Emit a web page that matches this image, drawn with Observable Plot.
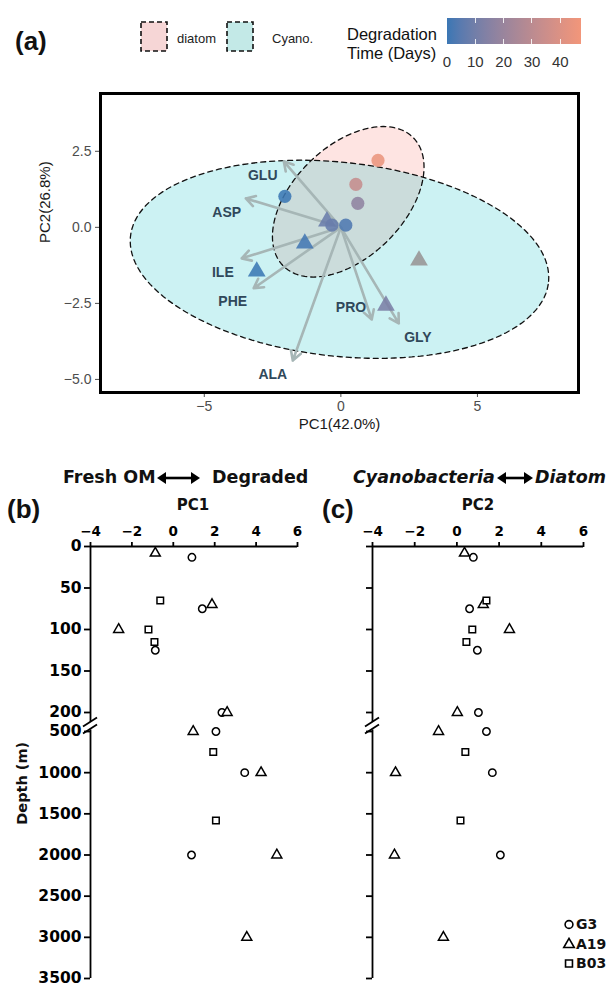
<!DOCTYPE html>
<html><head><meta charset="utf-8">
<script src="https://cdn.jsdelivr.net/npm/d3@7"></script>
<script src="https://cdn.jsdelivr.net/npm/@observablehq/plot@0.6"></script>
<style>
body{margin:0;background:#fff;font-family:"Liberation Sans",Arial,sans-serif;}
#root{position:relative;width:608px;height:987px;overflow:hidden;background:#fff;}
.abs{position:absolute;}
.pbc svg [aria-label$="axis tick"], .pbc svg [aria-label$="axis tick"] *{stroke-width:1.8px;}
.pbc svg [aria-label$="-axis"] .tick line{stroke-width:1.8px;}
</style></head><body><div id="root"></div>
<script>
// ---------- Panel (a): PCA scores ----------
const scoreShape = ["circle","circle","circle","circle","circle","circle","triangle","triangle","triangle","triangle","triangle"];
const scorePC1   = [1.36, 0.55, 0.62, -2.05, -0.33, 0.18, -0.51, -1.32, -3.08, 1.65, 2.86];
const scorePC2   = [2.20, 1.41, 0.79, 1.02, 0.07, 0.07, 0.20, -0.53, -1.45, -2.57, -1.09];
const scoreDays  = [45, 33, 17, 0, 7, 3, 8, 1, 0, 12, null];

// ---------- Panel (a): loadings ----------
const loadingName = ["GLU","ASP","ILE","PHE","ALA","PRO","GLY"];
const loadingPC1  = [-2.09, -3.48, -3.63, -3.19, -1.76, 1.13, 2.12];
const loadingPC2  = [2.17, 0.95, -1.02, -2.00, -4.38, -3.03, -3.16];
const labelPC1    = [-2.86, -4.18, -4.32, -3.96, -2.49, 0.37, 2.82];
const labelPC2    = [1.71, 0.49, -1.48, -2.43, -4.84, -2.63, -3.62];

// ---------- Panel (a): group ellipses ----------
const groupName      = ["diatom", "Cyano."];
const groupColor     = ["#F8766D", "#00BFC4"];
const ellipseCX      = [0.27, -0.05];
const ellipseCY      = [0.84, -1.05];
const ellipseA       = [3.19, 7.69];
const ellipseB       = [1.91, 3.19];
const ellipseAngle   = [38, -5.4];

// ---------- Degradation colour scale ----------
const daysDomain = [0, 47.3];
const daysColors = ["#3B77B4", "#F2967A"];
const daysTicks  = [0, 10, 20, 30, 40];

// ---------- Panels (b), (c) ----------
const stations = ["G3", "A19", "B03"];
const stationSymbol = ["circle", "triangle", "square"];
const sampleStation = ["G3","G3","G3","G3","G3","G3","G3",
                       "A19","A19","A19","A19","A19","A19","A19","A19",
                       "B03","B03","B03","B03","B03"];
const sampleDepth = [13, 75, 125, 200, 500, 1000, 2000,
                     8, 70, 100, 200, 500, 1000, 2000, 3000,
                     65, 100, 115, 750, 1580];
const samplePC1 = [0.90, 1.40, -0.87, 2.35, 2.06, 3.45, 0.88,
                   -0.87, 1.87, -2.64, 2.60, 0.96, 4.24, 5.00, 3.55,
                   -0.63, -1.20, -0.91, 1.93, 2.06];
const samplePC2 = [0.78, 0.60, 0.97, 1.02, 1.40, 1.68, 2.06,
                   0.36, 1.25, 2.49, 0.02, -0.87, -2.91, -2.96, -0.64,
                   1.40, 0.73, 0.45, 0.40, 0.17];
const depthBreaks = [0, 200, 500, 3500];
const depthTicks = [0, 50, 100, 150, 200, 500, 1000, 1500, 2000, 2500, 3000, 3500];
const pcTicks = [-4, -2, 0, 2, 4, 6];

// ================= build =================
const root = document.getElementById("root");
function addText(txt, x, yc, css, align = "left") {
  const d = document.createElement("div");
  d.textContent = txt;
  d.style.cssText = `position:absolute;white-space:nowrap;line-height:1;${css}`;
  const fs = parseFloat(/font-size:\s*([\d.]+)/.exec(css)[1]);
  d.style.top = (yc - fs * 0.5) + "px";
  if (align === "left") d.style.left = x + "px";
  else if (align === "center") { d.style.left = x + "px"; d.style.transform = "translateX(-50%)"; }
  else d.style.right = (608 - x) + "px";
  root.appendChild(d);
  return d;
}
function place(node, left, top) {
  node.style.position = "absolute";
  node.style.left = left + "px";
  node.style.top = top + "px";
  root.appendChild(node);
}

// ---- PCA plot ----
const scores = scorePC1.map((x, i) => ({x, y: scorePC2[i], shape: scoreShape[i], days: scoreDays[i]}));
const loadings = loadingName.map((name, i) => ({name, x: loadingPC1[i], y: loadingPC2[i], lx: labelPC1[i], ly: labelPC2[i]}));
const ellipses = groupName.map((g, i) => {
  const th = ellipseAngle[i] * Math.PI / 180;
  return d3.range(0, 145).map(k => {
    const t = k / 144 * 2 * Math.PI;
    return {
      group: g,
      x: ellipseCX[i] + ellipseA[i] * Math.cos(t) * Math.cos(th) - ellipseB[i] * Math.sin(t) * Math.sin(th),
      y: ellipseCY[i] + ellipseA[i] * Math.cos(t) * Math.sin(th) + ellipseB[i] * Math.sin(t) * Math.cos(th)
    };
  });
});

const pca = Plot.plot({
  width: 608, height: 440,
  marginLeft: 100, marginRight: 30, marginTop: 93, marginBottom: 48,
  style: {fontFamily: "Liberation Sans, Arial, sans-serif", fontSize: "14px", color: "#4d4d4d", background: "transparent"},
  x: {domain: [-8.8, 8.7], ticks: [-5, 0, 5], tickSize: 5, tickPadding: 4, label: null},
  y: {domain: [-5.43, 4.4], ticks: [-5, -2.5, 0, 2.5], tickSize: 5, tickPadding: 4, tickFormat: d3.format(".1f"), label: null},
  symbol: {domain: ["circle", "triangle"], range: ["circle", "triangle"]},
  color: {type: "linear", domain: daysDomain, range: daysColors, interpolate: "lab"},
  marks: [
    Plot.line(ellipses[0], {x: "x", y: "y", curve: "linear-closed", fill: groupColor[0], fillOpacity: 0.2, stroke: "none"}),
    Plot.line(ellipses[1], {x: "x", y: "y", curve: "linear-closed", fill: groupColor[1], fillOpacity: 0.2, stroke: "none"}),
    Plot.line(ellipses.flat(), {x: "x", y: "y", z: "group", curve: "linear-closed", stroke: "#111", strokeWidth: 1.3, strokeDasharray: "5,4"}),
    Plot.arrow(loadings, {x1: 0, y1: 0, x2: "x", y2: "y", stroke: "#a6b6b6", strokeWidth: 2.6, headLength: 6, headAngle: 60}),
    Plot.text(loadings, {x: "lx", y: "ly", text: "name", fill: "#30485a", fontWeight: "bold", fontSize: 14}),
    Plot.dot(scores.filter(d => d.days != null), {x: "x", y: "y", symbol: "shape", r: 6.6, fill: "days", fillOpacity: 0.88}),
    Plot.dot(scores.filter(d => d.days == null), {x: "x", y: "y", symbol: "shape", r: 6.6, fill: "#9b9b9b", fillOpacity: 0.95}),
    Plot.frame({stroke: "black", strokeWidth: 3}),
    Plot.text(["PC1(42.0%)"], {frameAnchor: "bottom", dy: 36, fill: "#1a1a1a", fontSize: 15}),
    Plot.text(["PC2(26.8%)"], {frameAnchor: "left", dx: -55, rotate: -90, fill: "#1a1a1a", fontSize: 15})
  ]
});
place(pca, 0, 0);

// ---- top legend ----
addText("(a)", 15, 41, "font-size:26px;font-weight:bold;color:#111;");
function keyBox(fill, left) {
  const s = d3.create("svg").attr("width", 28).attr("height", 31);
  s.append("rect").attr("x", 1).attr("y", 1).attr("width", 26).attr("height", 29)
    .attr("fill", fill).attr("stroke", "#111").attr("stroke-width", 1.6).attr("stroke-dasharray", "5,3");
  place(s.node(), left - 1, 21);
}
keyBox("#f6d6d6", 141);
addText("diatom", 177, 38, "font-size:13px;color:#222;");
keyBox("#c3e9e7", 227);
addText("Cyano.", 272, 38, "font-size:13px;color:#222;");
addText("Degradation", 347, 34, "font-size:16.5px;color:#111;");
addText("Time (Days)", 347, 53, "font-size:16.5px;color:#111;");
{
  const barX = 447, barW = 134, barY = 18, barH = 26;
  const interp = d3.interpolateLab(daysColors[0], daysColors[1]);
  const stops = d3.range(0, 11).map(k => `${interp(k / 10)} ${k * 10}%`).join(",");
  const bar = document.createElement("div");
  bar.style.cssText = `width:${barW}px;height:${barH}px;background:linear-gradient(to right,${stops});`;
  place(bar, barX, barY);
  const sx = d3.scaleLinear().domain(daysDomain).range([barX, barX + barW]);
  for (const t of daysTicks) {
    if (t > 0) {
      for (const yy of [barY, barY + barH - 5]) {
        const m = document.createElement("div");
        m.style.cssText = "width:1px;height:5px;background:rgba(255,255,255,0.85);";
        place(m, sx(t) - 0.5, yy);
      }
    }
    addText(String(t), sx(t), 61, "font-size:15px;color:#333;", "center");
  }
}

// ---- depth panels ----
const samples = sampleDepth.map((depth, i) => ({station: sampleStation[i], depth, pc1: samplePC1[i], pc2: samplePC2[i]}));
function depthPanel(key, left, xRange, showLabels) {
  const breakMark = (index, scales) => {
    const g = d3.create("svg:g");
    const ym = (scales.y(depthBreaks[1]) + scales.y(depthBreaks[2])) / 2 + 4;
    const x0 = scales.x(pcTicks[0]);
    g.append("rect").attr("x", x0 - 3).attr("y", ym - 4).attr("width", 6).attr("height", 8).attr("fill", "white");
    for (const off of [-3.5, 3.5]) {
      g.append("line").attr("x1", x0 - 7).attr("y1", ym + off + 4.5).attr("x2", x0 + 7).attr("y2", ym + off - 4.5)
        .attr("stroke", "black").attr("stroke-width", 1.8);
    }
    return g.node();
  };
  const p = Plot.plot({
    width: 304, height: 547,
    marginTop: 106, marginBottom: 9, marginLeft: xRange[0], marginRight: 304 - xRange[1],
    style: {fontFamily: "DejaVu Sans, sans-serif", fontSize: "15.5px", fontWeight: "bold", color: "black", background: "transparent", overflow: "visible"},
    x: {domain: [pcTicks[0], pcTicks[pcTicks.length - 1]], range: xRange, axis: "top", ticks: pcTicks, tickSize: 5, tickPadding: 6, label: null},
    y: {type: "linear", domain: depthBreaks, range: [106, 272, 291, 538], ticks: depthTicks, tickSize: 6, tickPadding: 3, label: null,
        tickFormat: showLabels ? (d => String(d)) : (() => "")},
    symbol: {domain: stations, range: stationSymbol},
    marks: [
      Plot.ruleY([depthBreaks[0]], {stroke: "black", strokeWidth: 1.8}),
      Plot.ruleX([pcTicks[0]], {y1: depthBreaks[0], y2: depthBreaks[3], stroke: "black", strokeWidth: 1.8}),
      breakMark,
      Plot.dot(samples, {x: key, y: "depth", symbol: "station", r: 3.7, stroke: "black", strokeWidth: 1.5, fill: "white"})
    ]
  });
  const wrap = document.createElement("div");
  wrap.className = "pbc";
  wrap.appendChild(p);
  place(wrap, left, 440);
  d3.select(p).selectAll('[aria-label="x-axis tick label"] text, [aria-label="x-axis"] .tick text').style("font-size", "13.5px");
}
depthPanel("pc1", 0, [90, 297], true);
depthPanel("pc2", 304, [68, 279], false);

// ---- panel headers ----
function dblArrow(left, yc, w) {
  const s = d3.create("svg").attr("width", w).attr("height", 14);
  s.append("line").attr("x1", 6).attr("x2", w - 6).attr("y1", 7).attr("y2", 7).attr("stroke", "black").attr("stroke-width", 2.6);
  s.append("path").attr("d", `M0,7 L9,1 L9,13 Z`).attr("fill", "black");
  s.append("path").attr("d", `M${w},7 L${w - 9},1 L${w - 9},13 Z`).attr("fill", "black");
  place(s.node(), left, yc - 7);
}
const hdr = "font-family:'DejaVu Sans',sans-serif;font-weight:bold;font-size:17.5px;color:#111;";
addText("Fresh OM", 63, 478, hdr);
dblArrow(157, 478, 43);
addText("Degraded", 212, 478, hdr);
addText("Cyanobacteria", 353, 478, hdr + "font-style:italic;");
dblArrow(497, 478, 36);
addText("Diatom", 535, 478, hdr + "font-style:italic;");
addText("(b)", 7, 509, "font-size:26px;font-weight:bold;color:#111;");
addText("(c)", 322, 509, "font-size:26px;font-weight:bold;color:#111;");
addText("PC1", 193, 505, "font-family:'DejaVu Sans',sans-serif;font-weight:bold;font-size:15px;color:#111;", "center");
addText("PC2", 478, 505, "font-family:'DejaVu Sans',sans-serif;font-weight:bold;font-size:15px;color:#111;", "center");
{
  const d = addText("Depth (m)", 22, 783, "font-family:'DejaVu Sans',sans-serif;font-weight:bold;font-size:14.5px;color:#111;", "center");
  d.style.transform = "translateX(-50%) rotate(-90deg)";
}

// ---- station legend ----
stations.forEach((s, i) => {
  const yc = 924 + i * 19.5;
  const sv = d3.create("svg").attr("width", 14).attr("height", 14);
  sv.append("path").attr("transform", "translate(7,7.5)")
    .attr("d", d3.symbol(d3["symbol" + stationSymbol[i][0].toUpperCase() + stationSymbol[i].slice(1)], 48)())
    .attr("fill", "white").attr("stroke", "black").attr("stroke-width", 1.6);
  place(sv.node(), 562, yc - 7);
  addText(s, 576, yc, "font-family:'DejaVu Sans',sans-serif;font-weight:bold;font-size:14px;color:#111;");
});
</script></body></html>
